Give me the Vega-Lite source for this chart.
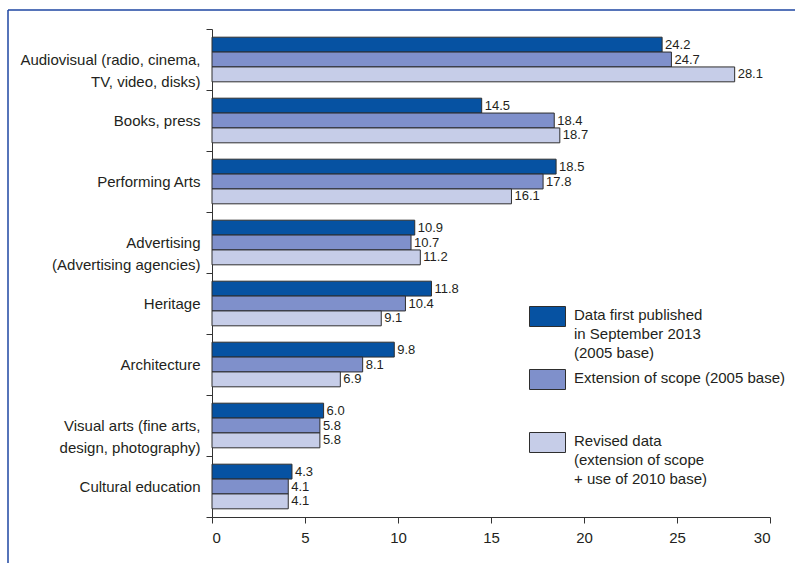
{
  "$schema": "https://vega.github.io/schema/vega-lite/v6.json",
  "autosize": {"type": "none"},
  "padding": {"left": 8, "top": 10, "right": 0, "bottom": 0},
  "width": 787,
  "height": 553,
  "background": "white",
  "config": {
    "font": "Liberation Sans, Arial, sans-serif",
    "view": {"stroke": "#1f47a3", "strokeWidth": 1.5, "strokeDash": [787, 1340, 553, 0]},
    "axis": {"domainColor": "#333333", "tickColor": "#333333", "labelColor": "#231f20", "grid": false, "title": null}
  },
  "data": {
    "values": [
      {"category": "Audiovisual (radio, cinema,\nTV, video, disks)", "series": "A", "value": 24.2},
      {"category": "Audiovisual (radio, cinema,\nTV, video, disks)", "series": "B", "value": 24.7},
      {"category": "Audiovisual (radio, cinema,\nTV, video, disks)", "series": "C", "value": 28.1},
      {"category": "Books, press", "series": "A", "value": 14.5},
      {"category": "Books, press", "series": "B", "value": 18.4},
      {"category": "Books, press", "series": "C", "value": 18.7},
      {"category": "Performing Arts", "series": "A", "value": 18.5},
      {"category": "Performing Arts", "series": "B", "value": 17.8},
      {"category": "Performing Arts", "series": "C", "value": 16.1},
      {"category": "Advertising\n(Advertising agencies)", "series": "A", "value": 10.9},
      {"category": "Advertising\n(Advertising agencies)", "series": "B", "value": 10.7},
      {"category": "Advertising\n(Advertising agencies)", "series": "C", "value": 11.2},
      {"category": "Heritage", "series": "A", "value": 11.8},
      {"category": "Heritage", "series": "B", "value": 10.4},
      {"category": "Heritage", "series": "C", "value": 9.1},
      {"category": "Architecture", "series": "A", "value": 9.8},
      {"category": "Architecture", "series": "B", "value": 8.1},
      {"category": "Architecture", "series": "C", "value": 6.9},
      {"category": "Visual arts (fine arts,\ndesign, photography)", "series": "A", "value": 6.0},
      {"category": "Visual arts (fine arts,\ndesign, photography)", "series": "B", "value": 5.8},
      {"category": "Visual arts (fine arts,\ndesign, photography)", "series": "C", "value": 5.8},
      {"category": "Cultural education", "series": "A", "value": 4.3},
      {"category": "Cultural education", "series": "B", "value": 4.1},
      {"category": "Cultural education", "series": "C", "value": 4.1}
    ]
  },
  "encoding": {
    "y": {
      "field": "category", "type": "nominal", "sort": null,
      "scale": {"range": [19, 507], "paddingInner": 0, "paddingOuter": 0},
      "axis": {
        "offset": -204, "tickBand": "extent", "tickSize": 6, "labelPadding": 6,
        "labelFontSize": 15, "labelLineHeight": 22, "labelLimit": 300,
        "labelExpr": "split(datum.label, '\\n')"
      }
    },
    "yOffset": {"field": "series", "type": "nominal", "scale": {"paddingInner": 0, "paddingOuter": 0.55}},
    "x": {
      "field": "value", "type": "quantitative",
      "scale": {"domain": [0, 30], "range": [204, 762], "nice": false},
      "axis": {"offset": -46, "values": [0, 5, 10, 15, 20, 25, 30], "tickSize": 6, "labelFontSize": 15, "labelPadding": 7}
    }
  },
  "layer": [
    {
      "mark": {"type": "bar", "stroke": "#2e2e2e", "strokeWidth": 1, "opacity": 1},
      "encoding": {
        "color": {
          "field": "series", "type": "nominal",
          "scale": {"domain": ["A", "B", "C"], "range": ["#0652a2", "#7f90cb", "#c6cde8"]},
          "legend": {
            "title": null, "orient": "none", "legendX": 529, "legendY": 296,
            "direction": "vertical",
            "symbolType": "M-1.8,-1H1.8V1H-1.8Z", "symbolSize": 400,
            "symbolStrokeColor": "#2e2e2e", "symbolStrokeWidth": 1, "symbolOpacity": 1,
            "labelFontSize": 15, "labelColor": "#231f20", "labelOffset": 16, "labelLimit": 300,
            "labelBaseline": "top", "gridAlign": "all", "rowPadding": 6,
            "labelExpr": "datum.label == 'A' ? ['Data first published', 'in September 2013', '(2005 base)'] : datum.label == 'B' ? ['Extension of scope (2005 base)'] : ['Revised data', '(extension of scope', '+  use of 2010 base)']",
            "encode": {"labels": {"update": {"dy": {"value": -9}, "lineHeight": {"value": 19}}}}
          }
        }
      }
    },
    {
      "mark": {"type": "text", "align": "left", "baseline": "middle", "dx": 3, "fontSize": 13, "color": "#231f20"},
      "encoding": {
        "text": {"field": "value", "type": "quantitative", "format": ".1f"}
      }
    }
  ]
}
